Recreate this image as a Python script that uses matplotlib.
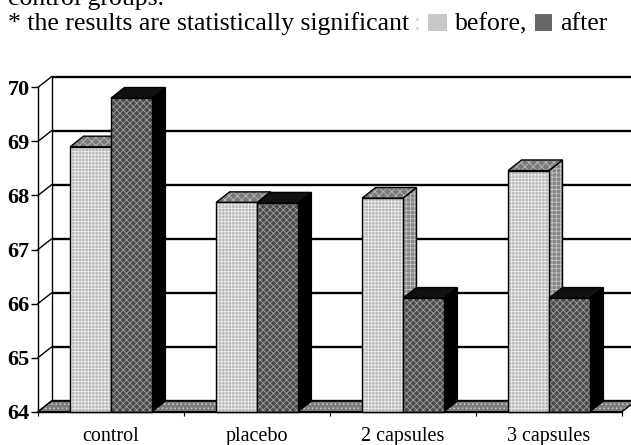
import matplotlib
matplotlib.use("Agg")
import matplotlib.pyplot as plt
from matplotlib.patches import Polygon, Rectangle

# ---- data ----
categories = ["control", "placebo", "2 capsules", "3 capsules"]
before = [68.9, 67.87, 67.95, 68.46]
after = [69.8, 67.86, 66.1, 66.1]
yticks = [64, 65, 66, 67, 68, 69, 70]
series_labels = ["before,", "after"]

# ---- style ----
SERIF = ["Liberation Serif", "DejaVu Serif"]
DX, DY = 0.0925, 0.196      # 3-D depth offset in data units
BAR_W = 0.28
C_BEFORE = dict(front="#b8b8b8", top="#7a7a7a", side="#858585",
                hfront=("+++++", "#ececec"), htop=("xxxx", "#bcbcbc"),
                hside=("++++", "#c4c4c4"))
C_AFTER = dict(front="#4c4c4c", top="#111111", side="#000000",
               hfront=("xxxxx", "#a0a0a0"), htop=(None, None), hside=(None, None))
FLOOR = "#7c7c7c"
plt.rcParams["hatch.linewidth"] = 0.6

W, H = 631, 445
fig = plt.figure(figsize=(W / 100, H / 100), dpi=100)
ax = fig.add_axes([38 / W, (H - 411.7) / H, 584 / W, 324.4 / H])
ax.set_xlim(0, len(categories))
ax.set_ylim(yticks[0], yticks[-1])
ax.patch.set_alpha(0)

ymin, ymax = yticks[0], yticks[-1]
xmax = len(categories)

# back wall gridlines and border
for y in yticks:
    ax.plot([DX, xmax + DX], [y + DY, y + DY], color="black", lw=1.7,
            clip_on=False, zorder=1, solid_capstyle="butt")
    ax.plot([0, DX], [y, y + DY], color="black", lw=1.0, clip_on=False, zorder=1)
ax.plot([DX, DX], [ymin + DY, ymax + DY], color="black", lw=1.0, clip_on=False, zorder=1)


def add_face(pts, face, hatch, z):
    ax.add_patch(Polygon(pts, closed=True, facecolor=face, edgecolor="none",
                         lw=0, clip_on=False, zorder=z))
    if hatch[0]:
        ax.add_patch(Polygon(pts, closed=True, fill=False, hatch=hatch[0],
                             edgecolor=hatch[1], lw=0, clip_on=False, zorder=z))
    ax.add_patch(Polygon(pts, closed=True, fill=False, edgecolor="black",
                         lw=1.0, clip_on=False, zorder=z))


# floor
add_face([(0, ymin), (xmax, ymin), (xmax + DX, ymin + DY), (DX, ymin + DY)],
         FLOOR, ("....", "#d0d0d0"), 2)


def draw_bar(x0, v, c, z):
    add_face([(x0 + BAR_W, ymin), (x0 + BAR_W + DX, ymin + DY),
              (x0 + BAR_W + DX, v + DY), (x0 + BAR_W, v)], c["side"], c["hside"], z)
    add_face([(x0, v), (x0 + BAR_W, v), (x0 + BAR_W + DX, v + DY), (x0 + DX, v + DY)],
             c["top"], c["htop"], z)
    ax.bar(x0, v - ymin, bottom=ymin, width=BAR_W, align="edge",
           color=c["front"], edgecolor="none", lw=0, zorder=z + 0.5, clip_on=False)
    ax.bar(x0, v - ymin, bottom=ymin, width=BAR_W, align="edge", fill=False,
           hatch=c["hfront"][0], edgecolor=c["hfront"][1], lw=0, zorder=z + 0.5,
           clip_on=False)
    ax.bar(x0, v - ymin, bottom=ymin, width=BAR_W, align="edge", fill=False,
           edgecolor="black", lw=1.0, zorder=z + 0.5, clip_on=False)


for i, (b, a) in enumerate(zip(before, after)):
    xc = i + 0.5
    draw_bar(xc - BAR_W, b, C_BEFORE, 3 + i * 2)
    draw_bar(xc, a, C_AFTER, 4 + i * 2)

for s in ("top", "right"):
    ax.spines[s].set_visible(False)
ax.spines["left"].set_linewidth(1.0)
ax.spines["bottom"].set_linewidth(1.0)
ax.spines["left"].set_zorder(20)
ax.spines["bottom"].set_zorder(20)

ax.set_yticks(yticks)
ax.set_yticklabels([str(t) for t in yticks], fontfamily=SERIF, fontweight="bold",
                   fontsize=16)
ax.tick_params(axis="y", length=5, width=1.0, pad=1)

ax.set_xticks([i + 0.5 for i in range(len(categories))])
ax.set_xticklabels(categories, fontfamily=SERIF, fontsize=14.5)
ax.set_xticks(range(len(categories) + 1), minor=True)
ax.tick_params(axis="x", which="major", length=0, pad=11)
ax.tick_params(axis="x", which="minor", length=3, width=0.8)

# header text
FS = 18.5
fig.text(8 / W, (H - 5) / H, "control groups.", fontfamily=SERIF, fontsize=FS,
         va="baseline", ha="left")
ybase = (H - 30) / H
fig.text(8 / W, ybase, "* the results are statistically significant",
         fontfamily=SERIF, fontsize=FS, va="baseline", ha="left")
fig.text(414 / W, ybase, ":", fontfamily=SERIF, fontsize=FS, va="baseline",
         ha="left", color="#d0d0d0")
fig.patches.append(Rectangle((428 / W, (H - 31) / H), 19 / W, 17 / H,
                             transform=fig.transFigure, facecolor="#c8c8c8",
                             edgecolor="none"))
fig.text(455 / W, ybase, series_labels[0], fontfamily=SERIF, fontsize=FS,
         va="baseline", ha="left")
fig.patches.append(Rectangle((535 / W, (H - 31) / H), 17 / W, 17 / H,
                             transform=fig.transFigure, facecolor="#686868",
                             edgecolor="none"))
fig.text(560 / W, ybase, series_labels[1], fontfamily=SERIF, fontsize=FS,
         va="baseline", ha="left")

fig.savefig("out.png", dpi=100)
